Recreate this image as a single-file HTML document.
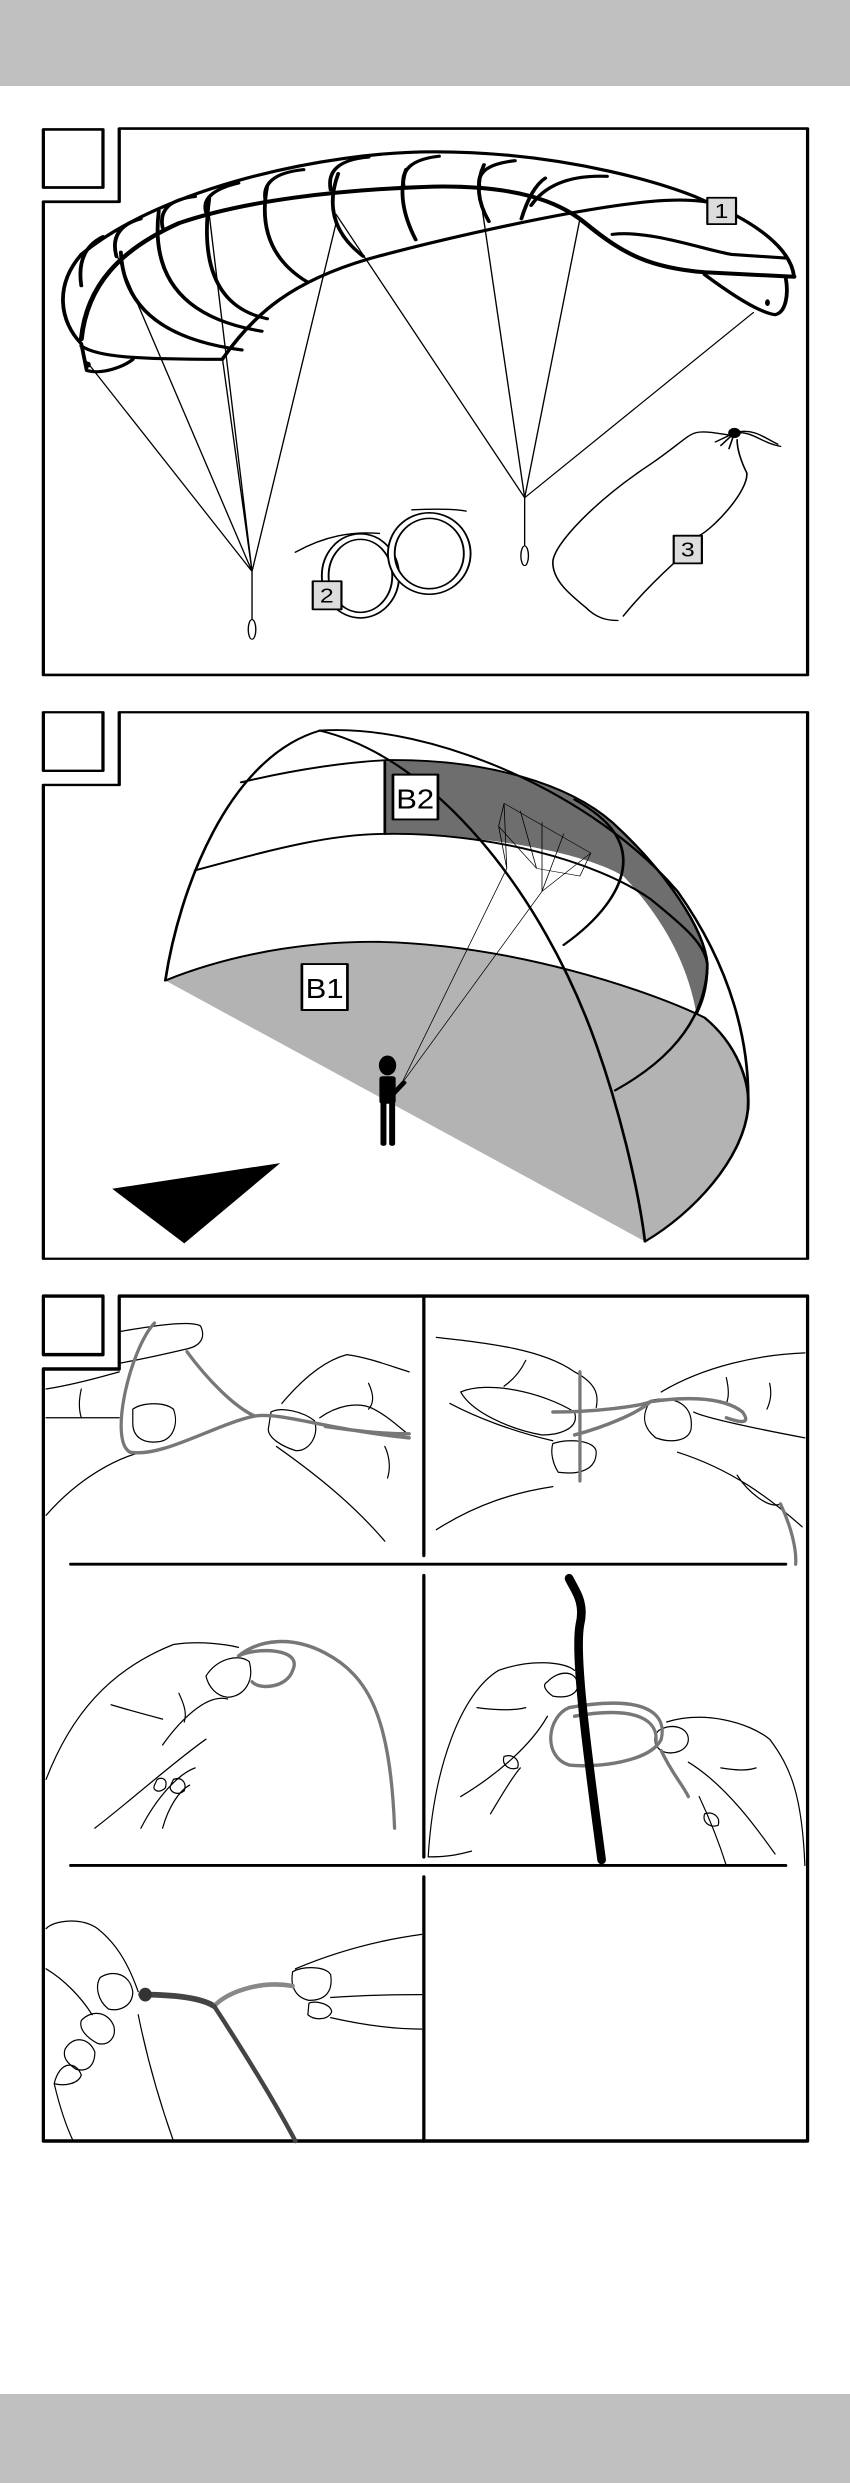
<!DOCTYPE html>
<html><head><meta charset="utf-8"><style>
html,body{margin:0;padding:0;background:#fff;}
svg{display:block;}
text{font-family:"Liberation Sans",sans-serif;}
</style></head><body>
<svg width="850" height="2483" viewBox="0 0 850 2483" xmlns="http://www.w3.org/2000/svg">
<rect x="0" y="0" width="850" height="86" fill="#c0c0c0"/>
<rect x="0" y="2394" width="850" height="89" fill="#c0c0c0"/>

<!-- PANEL 1 -->
<g transform="scale(0.542,0.4464)" fill="none" stroke="#000" stroke-linecap="round" stroke-linejoin="round">
<path d="M220,288 H1490 V1512 H80 V452 H220 Z" stroke-width="6"/>
<rect x="80" y="290" width="110" height="130" stroke-width="6"/>
<g stroke-width="7">
<path d="M150,570 C300,420 600,340 800,340 C1050,340 1250,420 1300,450 C1400,500 1460,560 1465,620"/>
<path d="M150,570 C100,640 110,720 150,770 L160,830 C190,840 230,820 245,805"/>
<path d="M150,760 C160,640 220,560 330,500 C450,450 620,425 800,418 C950,415 1030,450 1080,500 C1150,570 1200,600 1300,610 L1465,620" stroke-width="9"/>
<path d="M410,805 C470,700 540,630 680,580 C800,540 950,500 1050,478 C1200,445 1280,440 1330,460"/>
<path d="M1130,525 C1200,515 1300,560 1350,570 L1450,578"/>
<path d="M150,775 C180,800 250,805 410,805"/>
<path d="M1300,615 C1350,660 1400,700 1430,705 C1450,700 1455,660 1450,625"/>
<path d="M223,565 Q230,750 446,784"/>
<path d="M293,472 Q270,700 483,742"/>
<path d="M386,445 Q360,680 493,714"/>
<path d="M493,417 Q470,560 566,631"/>
<path d="M624,389 Q590,500 670,574"/>
<path d="M749,380 Q730,450 767,537"/>
<path d="M893,369 Q870,430 902,496"/>
<path d="M1006,399 Q980,420 962,490"/>
<path d="M260,490 Q200,510 215,575"/>
<path d="M360,440 Q290,450 300,510"/>
<path d="M440,410 Q370,430 380,475"/>
<path d="M560,380 Q480,390 490,450"/>
<path d="M680,352 Q600,360 610,425"/>
<path d="M810,350 Q735,360 745,420"/>
<path d="M950,360 Q875,370 885,420"/>
<path d="M1120,395 Q1020,390 980,460"/>
<path d="M190,530 Q140,560 150,640"/>
</g>
<ellipse cx="163" cy="817" rx="4" ry="6" fill="#000"/>
<ellipse cx="1416" cy="678" rx="4" ry="7" fill="#000"/>
<g stroke-width="2.5">
<path d="M465,1280 L160,810 M465,1280 L215,570 M465,1280 L385,470 M465,1280 L410,800 M465,1280 L620,500 M465,1280 V1388"/>
<ellipse cx="465" cy="1410" rx="7" ry="22"/>
<path d="M968,1115 L620,480 M968,1115 L885,430 M968,1115 L1070,490 M968,1115 L1390,700 M968,1115 V1222"/>
<ellipse cx="968" cy="1245" rx="7" ry="22"/>
</g>
<ellipse cx="665" cy="1290" rx="65" ry="88" stroke-width="16"/>
<ellipse cx="665" cy="1290" rx="65" ry="88" stroke="#fff" stroke-width="9"/>
<ellipse cx="792" cy="1240" rx="70" ry="85" stroke-width="16"/>
<ellipse cx="792" cy="1240" rx="70" ry="85" stroke="#fff" stroke-width="9"/>
<path d="M545,1237 C600,1200 650,1190 700,1195 M760,1142 C800,1140 840,1140 860,1145" stroke-width="3"/>
<path d="M1140,1390 C1120,1390 1100,1385 1080,1360 C1050,1330 1020,1300 1020,1260 C1020,1220 1100,1120 1200,1040 C1260,990 1270,970 1290,968 C1310,965 1340,975 1350,975 M1360,985 C1360,1010 1370,1040 1378,1060 C1380,1100 1320,1180 1290,1200 M1243,1262 C1200,1310 1170,1350 1150,1380" stroke-width="3"/>
<circle cx="1355" cy="970" r="11" fill="#000"/>
<path d="M1355,970 L1320,990 M1355,970 L1330,998 M1355,970 L1345,1005 M1355,970 C1390,965 1400,990 1440,1000 M1360,968 C1390,960 1410,980 1435,995" stroke-width="3"/>
<g stroke-width="4" fill="#dcdcdc">
<rect x="1305" y="443" width="53" height="59"/>
<rect x="577" y="1302" width="53" height="63"/>
<rect x="1243" y="1200" width="52" height="62"/>
</g>
<g fill="#000" stroke="none" font-size="46" text-anchor="middle">
<text x="1331" y="488">1</text><text x="603" y="1350">2</text><text x="1269" y="1247">3</text>
</g>
</g>

<!-- PANEL 2 -->
<g transform="translate(0,700) scale(0.542,0.3827)" fill="none" stroke="#000" stroke-linecap="round" stroke-linejoin="round">
<path d="M220,32 H1490 V1460 H80 V222 H220 Z" stroke-width="6"/>
<rect x="80" y="32" width="110" height="153" stroke-width="6"/>
<path d="M305,733 C450,650 600,630 700,632 C950,640 1200,760 1300,830 C1360,900 1385,1000 1380,1070 C1370,1200 1280,1340 1190,1415 Z" fill="#b3b3b3" stroke="none"/>
<path d="M710,160 C900,150 1050,220 1130,320 C1230,450 1300,600 1305,690 C1305,760 1292,800 1285,820 C1270,700 1230,580 1150,460 C1080,400 900,350 710,350 Z" fill="#6e6e6e" stroke="none"/>
<g stroke-width="5">
<path d="M305,733 C450,650 600,630 700,632 C950,640 1200,760 1300,830 C1360,900 1385,1000 1380,1070"/>
<path d="M590,80 C800,60 1100,250 1250,500 C1350,700 1385,900 1380,1070 C1370,1200 1280,1340 1190,1415"/>
<path d="M590,80 C800,150 1000,500 1100,900 C1150,1100 1180,1300 1190,1415"/>
<path d="M305,733 C330,500 420,150 590,80"/>
<path d="M445,215 C550,180 650,160 720,157 C900,155 1050,220 1130,320 C1230,450 1300,600 1305,690 C1305,760 1292,800 1285,820"/>
<path d="M360,445 C480,400 600,350 710,350 C900,345 1100,420 1200,520 C1270,600 1300,640 1305,690"/>
<path d="M710,160 V350"/>
<path d="M1040,640 C1100,580 1150,500 1150,420 C1150,350 1110,300 1060,260"/>
<path d="M1135,1020 C1250,930 1300,820 1305,700"/>
</g>
<g stroke-width="1.5">
<path d="M740,1005 L935,440 M740,1005 L1000,500"/>
<path d="M930,270 L1090,400 L1070,460 L990,440 L920,330 Z M930,270 L935,440 M960,290 L990,440 M1000,320 L1000,500 M1040,350 L1000,500 M1090,400 L1000,500 M920,330 L935,440"/>
</g>
<ellipse cx="715" cy="955" rx="16" ry="26" fill="#000" stroke="none"/>
<rect x="700" y="983" width="30" height="72" rx="6" fill="#000" stroke="none"/>
<rect x="702" y="1050" width="11" height="115" rx="5" fill="#000" stroke="none"/>
<rect x="718" y="1050" width="11" height="115" rx="5" fill="#000" stroke="none"/>
<path d="M725,1030 L745,1000" stroke-width="10"/>
<polygon points="207,1277 517,1210 340,1420" fill="#000" stroke="none"/>
<rect x="725" y="195" width="83" height="117" fill="#fff" stroke-width="5"/>
<rect x="557" y="690" width="84" height="120" fill="#fff" stroke-width="5"/>
<g fill="#000" stroke="none" font-size="72" text-anchor="middle">
<text x="766" y="283" textLength="70" lengthAdjust="spacingAndGlyphs">B2</text>
<text x="599" y="779" textLength="70" lengthAdjust="spacingAndGlyphs">B1</text>
</g>
</g>

<!-- PANEL 3 -->
<g transform="translate(0,1280) scale(0.542,0.574)" fill="none" stroke="#000" stroke-linecap="round" stroke-linejoin="round">
<path d="M220,28 H1490 V1500 H80 V155 H220 Z" stroke-width="6"/>
<rect x="80" y="28" width="110" height="102" stroke-width="6"/>
<path d="M782,28 V480 M782,515 V1005 M782,1040 V1500" stroke-width="6"/>
<path d="M130,495 H1450 M130,1020 H1450" stroke-width="5"/>
<g stroke-width="2.2">
<path d="M85,190 C150,180 200,165 220,160 M220,90 C280,80 350,70 370,80 C380,100 370,115 345,120 C300,130 250,140 220,145 M85,240 C150,240 200,240 220,240 M245,225 C260,215 300,210 320,225 C330,250 320,280 290,282 C260,285 245,270 245,250 Z M85,410 C150,340 220,310 260,300 M150,190 C145,210 145,225 150,240"/>
<path d="M520,215 C560,170 600,140 640,130 C680,135 720,150 755,160 M500,230 C520,220 560,230 580,245 C590,270 570,300 545,297 C520,290 495,275 495,260 Z M510,290 C600,350 660,400 710,455 M590,240 C620,220 660,210 690,225 C720,240 740,260 755,270 M710,290 C720,310 720,330 715,345 M680,180 C690,200 690,215 680,225"/>
<path d="M805,100 C900,110 1000,120 1060,160 C1100,180 1105,200 1100,222 M850,195 C900,175 1000,195 1060,230 C1070,260 1030,270 1000,270 C940,260 870,230 850,195 Z M830,215 C880,240 950,265 1020,280 M1020,285 C1050,275 1100,280 1100,300 C1100,330 1070,340 1030,335 C1020,320 1015,300 1020,285 Z M805,435 C880,390 950,370 1020,360 M970,140 C960,160 945,175 930,185"/>
<path d="M1220,195 C1300,150 1400,130 1485,127 M1200,210 C1250,200 1280,220 1275,260 C1270,280 1240,285 1210,275 C1190,260 1180,240 1200,210 Z M1250,300 C1350,330 1420,380 1480,430 M1485,275 C1400,260 1300,240 1280,230 M1360,340 C1380,370 1420,400 1440,390 M1340,170 C1345,190 1345,205 1340,215 M1420,180 C1425,200 1420,215 1415,225"/>
<path d="M175,955 C250,900 320,840 380,800 M85,870 C130,760 200,680 320,635 C370,628 420,635 440,640 M380,690 C400,660 440,650 460,665 C470,700 450,725 420,727 C400,725 385,710 380,690 Z M300,810 C330,770 380,720 420,730 M260,955 C290,900 330,860 360,850 M205,740 C240,750 280,760 300,765 M290,870 C300,865 310,870 305,885 C295,895 280,890 285,880 Z M320,870 C335,865 345,875 340,890 C325,900 310,890 315,880 Z M300,955 C310,920 330,890 350,880 M330,720 C340,740 345,755 340,770"/>
<path d="M790,1005 C800,850 850,720 920,680 C980,660 1040,665 1060,680 M1010,700 C1030,680 1060,680 1065,700 C1070,720 1050,730 1020,725 C1005,715 1000,705 1010,700 Z M850,900 C920,860 980,810 1010,760 M790,1005 C830,1005 850,1000 870,995 M880,745 C920,750 950,750 970,745 M930,830 C945,825 960,835 955,850 C940,855 925,845 930,830 Z M905,930 C930,890 950,860 960,850"/>
<path d="M1215,785 C1240,770 1270,780 1270,800 C1270,820 1240,830 1220,820 C1205,810 1205,795 1215,785 Z M1230,770 C1300,750 1380,770 1420,800 C1460,850 1480,900 1485,1020 M1340,1020 C1320,960 1300,920 1290,900 M1430,1000 C1400,960 1340,880 1270,840 M1300,930 C1315,925 1330,935 1325,950 C1310,955 1295,945 1300,930 Z M1330,850 C1360,855 1380,855 1395,850"/>
<path d="M85,1130 C100,1115 150,1110 180,1130 C220,1160 240,1200 255,1240 M185,1215 C210,1200 240,1210 245,1240 C245,1265 220,1275 200,1270 C180,1255 175,1230 185,1215 Z M150,1290 C170,1270 200,1275 210,1300 C215,1320 200,1335 180,1330 C160,1320 145,1305 150,1290 Z M120,1340 C135,1315 165,1320 175,1345 C175,1370 160,1380 140,1375 C125,1365 115,1355 120,1340 Z M100,1400 C110,1360 140,1360 150,1385 C145,1400 120,1405 100,1400 Z M255,1280 C270,1350 290,1420 320,1500 M100,1400 C110,1440 120,1470 135,1500 M85,1200 C120,1220 150,1250 170,1280"/>
<path d="M540,1205 C560,1195 600,1195 610,1210 C615,1240 600,1255 570,1255 C545,1250 535,1230 540,1205 Z M545,1200 C620,1170 700,1150 778,1140 M610,1250 C680,1245 740,1245 778,1245 M570,1260 C580,1255 610,1260 612,1275 C605,1290 580,1290 568,1280 Z M610,1285 C680,1300 730,1305 778,1305"/>
</g>
<g stroke="#777" stroke-width="6">
<path d="M285,75 C240,120 200,280 240,300 C300,310 400,250 470,237 C520,230 600,260 755,275 M345,125 C380,170 430,220 470,237 M600,255 C650,262 700,268 755,268"/>
<path d="M1070,160 V350 M1020,230 C1100,230 1180,220 1200,212 C1250,205 1330,200 1370,230 C1385,250 1370,250 1340,240 M1060,270 C1120,255 1180,230 1200,212 M1440,390 C1460,430 1470,470 1468,495"/>
<path d="M440,655 C480,625 540,620 600,650 C680,690 720,760 728,955 M440,655 C470,640 560,640 540,680 C530,710 480,715 465,700"/>
<path d="M1050,745 C1200,720 1230,760 1220,800 C1200,840 1100,850 1050,845 C1000,830 1010,760 1050,745 M1060,760 C1180,740 1215,770 1210,805 M1220,820 C1240,860 1260,880 1270,900"/>
</g>
<path d="M1050,520 C1060,540 1080,560 1070,600 C1060,650 1080,800 1110,1010" stroke="#000" stroke-width="16"/>
<path d="M260,1245 C320,1245 370,1250 395,1265" stroke="#444" stroke-width="10"/>
<path d="M395,1265 C420,1240 480,1220 540,1230" stroke="#888" stroke-width="8"/>
<path d="M395,1265 C440,1330 500,1420 545,1500" stroke="#444" stroke-width="8"/>
<circle cx="268" cy="1245" r="12" fill="#333" stroke="none"/>
</g>
</svg>
</body></html>
